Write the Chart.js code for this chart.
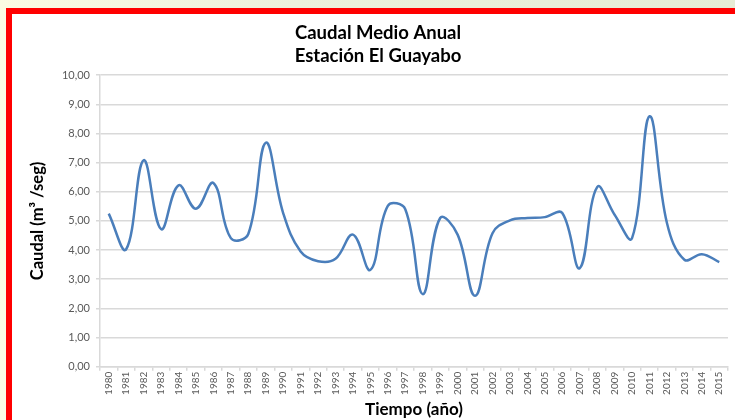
<!DOCTYPE html>
<html>
<head>
<meta charset="utf-8">
<script src="https://cdn.jsdelivr.net/npm/chart.js@4"></script>
<style>
    html, body { margin: 0; padding: 0; }
    body {
        width: 735px; height: 420px; overflow: hidden; position: relative;
        background: linear-gradient(90deg, #fbfbe3 0%, #edf1dc 40%, #e6ecd5 100%);
    }
    #marco {
        position: absolute; left: 6px; top: 8px; width: 740px; height: 430px;
        border-top: 6px solid #ff0000; border-left: 6px solid #ff0000;
        background: #ffffff;
    }
    #grafico { position: absolute; left: 0; top: 0; }
</style>
</head>
<body>
<div id="marco"></div>
<canvas id="grafico" width="735" height="420"></canvas>
<script>
// Años (eje X)
const anios = ['1980', '1981', '1982', '1983', '1984', '1985', '1986', '1987', '1988', '1989',
    '1990', '1991', '1992', '1993', '1994', '1995', '1996', '1997', '1998', '1999',
    '2000', '2001', '2002', '2003', '2004', '2005', '2006', '2007', '2008', '2009',
    '2010', '2011', '2012', '2013', '2014', '2015'];

// Caudal medio anual (m3/seg)
const caudal = [5.25, 4.03, 7.08, 4.72, 6.22, 5.42, 6.30, 4.41, 4.55, 7.68,
    5.27, 3.95, 3.62, 3.70, 4.53, 3.32, 5.52, 5.40, 2.49, 5.10,
    4.53, 2.43, 4.58, 5.02, 5.10, 5.13, 5.27, 3.38, 6.16, 5.21,
    4.41, 8.59, 4.93, 3.67, 3.86, 3.59];

const titulo = ['Caudal Medio Anual', 'Estación El Guayabo'];
const tituloY = 'Caudal (m³ /seg)';
const tituloX = 'Tiempo (año)';

const gris = '#595959';
const rejilla = '#d9d9d9';

// Formato de etiquetas con coma decimal
function formatoComa(valor) {
    return Number(valor).toFixed(2).replace('.', ',');
}

const ctx = document.getElementById('grafico');

new Chart(ctx, {
    type: 'line',
    data: {
        labels: anios,
        datasets: [{
            data: caudal,
            borderColor: '#4a7ebb',
            borderWidth: 2.5,
            pointRadius: 0,
            tension: 0.4,
            fill: false
        }]
    },
    options: {
        responsive: false,
        animation: false,
        layout: {
            padding: { left: 28, right: 7, top: 0, bottom: 0 }
        },
        plugins: {
            legend: { display: false },
            tooltip: { enabled: false },
            title: {
                display: true,
                text: titulo,
                color: '#000000',
                font: { family: 'Lato', size: 18.5, weight: 'bold', lineHeight: 1.22 },
                padding: { top: 22, bottom: 8 }
            }
        },
        scales: {
            y: {
                min: 0,
                max: 10,
                ticks: {
                    stepSize: 1,
                    color: gris,
                    padding: 6,
                    font: { family: 'Lato', size: 11 },
                    callback: function(v) { return formatoComa(v); }
                },
                grid: { color: rejilla, lineWidth: 1.5, tickLength: 4 },
                border: { color: rejilla, width: 1.5 },
                title: {
                    display: true,
                    text: tituloY,
                    color: '#000000',
                    font: { family: 'Lato', size: 16.5, weight: 'bold' },
                    padding: 0
                },
                afterFit: function(escala) { escala.width = 72; }
            },
            x: {
                offset: true,
                ticks: {
                    color: gris,
                    minRotation: 90,
                    maxRotation: 90,
                    autoSkip: false,
                    padding: 1,
                    font: { family: 'Lato', size: 10 }
                },
                grid: {
                    offset: true,
                    drawOnChartArea: false,
                    color: rejilla,
                    lineWidth: 1.5,
                    tickLength: 4
                },
                border: { color: rejilla, width: 1.5 },
                title: {
                    display: true,
                    text: tituloX,
                    color: '#000000',
                    font: { family: 'Lato', size: 17, weight: 'bold' },
                    padding: { top: 0, bottom: 0 }
                },
                afterFit: function(escala) { escala.height = 53.3; }
            }
        }
    }
});
</script>
</body>
</html>
